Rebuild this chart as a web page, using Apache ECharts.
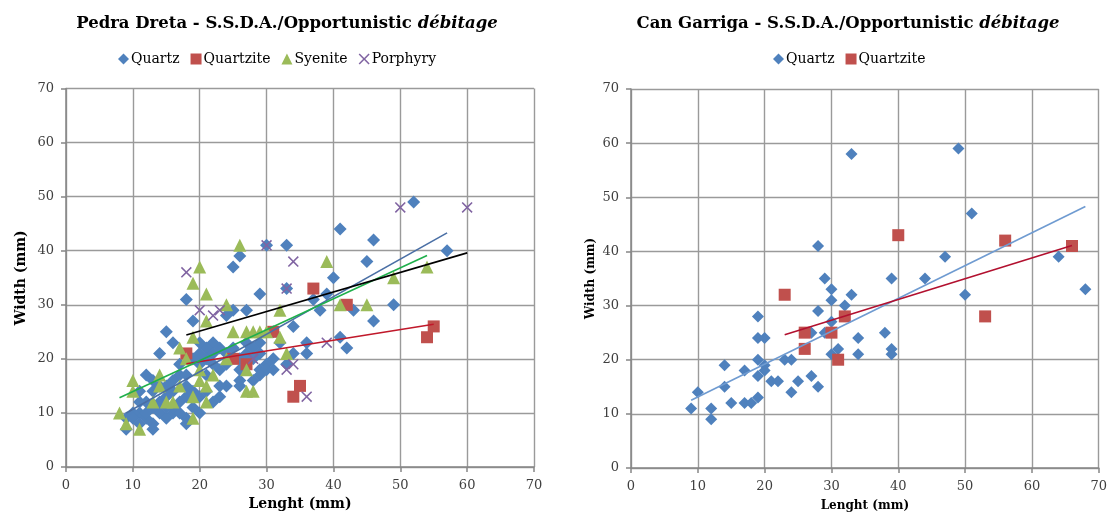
<!DOCTYPE html>
<html>
<head>
<meta charset="utf-8">
<script src="https://cdn.jsdelivr.net/npm/echarts@6/dist/echarts.min.js"></script>
<style>
html,body{margin:0;padding:0;background:#fff;}
#chart{width:1110px;height:517px;}
</style>
</head>
<body>
<div id="chart"></div>
<script>
// ---------- Data: Pedra Dreta (left) [length, width] ----------
var pdQuartz = [
  [52,49],[41,44],[46,42],[33,41],[30,41],[26,39],[25,37],[45,38],[57,40],[40,35],
  [33,33],[39,32],[29,32],[37,31],[18,31],[38,29],[43,29],[49,30],[27,29],[25,29],
  [24,28],[19,27],[46,27],[34,26],[15,25],[31,25],[29,23],[28,22],[41,24],[16,23],
  [22,23],[36,23],[21,22],[23,22],[25,22],[42,22],[14,21],[20,21],[36,21],[29,21],
  [31,20],[24,19],[28,20],[30,19],[26,18],[29,18],[30,18],[31,18],[29,17],[28,16],
  [12,17],[17,17],[18,17],[26,15],[24,15],[14,15],[15,15],[18,15],[16,14],[13,14],
  [23,13],[11,12],[12,12],[17,12],[20,10],[16,10],[14,10],[11,10],[10,10],[9,9],
  [12,9],[15,9],[18,9],[18,8],[13,8],[9,7],[13,7],[26,16],[22,21],[19,20],
  [20,19],[21,20],[27,21],[27,23],[32,23],[33,19],[34,21],[19,14],[20,13],[21,14],
  [16,11],[14,12],[10,9],[11,8],[12,10],[13,11],[15,11],[17,10],[19,11],[22,12],
  [23,15],[21,17],[22,19],[23,18],[24,21],[26,20],[20,23],[17,19],[13,16],[11,14],
  [16,16],[18,13],[15,13]
];
var pdQuartzite = [
  [37,33],[42,30],[31,25],[18,21],[25,20],[27,19],[55,26],[54,24],[35,15],[34,13]
];
var pdSyenite = [
  [26,41],[20,37],[19,34],[21,32],[39,38],[54,37],[49,35],[24,30],[32,29],[41,30],
  [45,30],[21,27],[25,25],[27,25],[28,25],[29,25],[32,24],[19,24],[33,21],[17,22],
  [18,20],[20,18],[27,18],[27,14],[28,14],[22,17],[21,15],[14,17],[14,15],[10,16],
  [17,15],[20,16],[19,13],[21,12],[15,12],[8,10],[9,8],[11,7],[19,9],[13,12],
  [16,12],[10,14],[30,25],[24,20]
];
var pdPorphyry = [
  [18,36],[20,29],[22,28],[23,29],[28,20],[30,41],[33,33],[34,38],[33,18],[34,19],
  [36,13],[39,23],[50,48],[60,48]
];
// trend line end points
var pdQuartzTrend = [[9,10],[57,43.3]];
var pdQuartziteTrend = [[18,19.1],[55,26.4]];
var pdSyeniteTrend = [[8,12.8],[54,39.1]];
var pdPorphyryTrend = [[18,24.4],[60,39.6]];

// ---------- Data: Can Garriga (right) ----------
var cgQuartz = [
  [33,58],[49,59],[51,47],[28,41],[47,39],[64,39],[39,35],[44,35],[68,33],[50,32],
  [29,35],[30,33],[30,31],[33,32],[32,30],[28,29],[19,28],[30,27],[29,25],[27,25],
  [38,25],[34,24],[19,24],[20,24],[31,22],[39,22],[30,21],[34,21],[39,21],[19,20],
  [23,20],[24,20],[20,19],[14,19],[17,18],[19,17],[20,18],[27,17],[21,16],[22,16],
  [25,16],[14,15],[24,14],[28,15],[10,14],[15,12],[17,12],[18,12],[19,13],[9,11],
  [12,11],[12,9]
];
var cgQuartzite = [
  [40,43],[56,42],[66,41],[23,32],[32,28],[53,28],[26,25],[30,25],[26,22],[31,20]
];
var cgQuartzTrend = [[9,12.5],[68,48.3]];
var cgQuartziteTrend = [[23,24.6],[66,41.1]];

// ---------- Labels ----------
var leftTitleMain = 'Pedra Dreta - S.S.D.A./Opportunistic ';
var rightTitleMain = 'Can Garriga - S.S.D.A./Opportunistic ';
var titleItalic = 'débitage';
var leftLegend = ['Quartz', 'Quartzite', 'Syenite', 'Porphyry'];
var rightLegend = ['Quartz', 'Quartzite'];
var xName = 'Lenght (mm)';
var yName = 'Width (mm)';

var FONT = 'DejaVu Serif';
var C_Q = '#4F81BD', C_QZ = '#C0504D', C_S = '#9BBB59', C_P = '#8064A2';
var X_PATH = 'path://M0,1 L1,0 L5,4 L9,0 L10,1 L6,5 L10,9 L9,10 L5,6 L1,10 L0,9 L4,5 Z';
var ICONS = {Quartz: 'diamond', Quartzite: 'rect', Syenite: 'triangle', Porphyry: X_PATH};

function titleRich(size) {
  return {
    b: {fontFamily: FONT, fontWeight: 'bold', fontSize: size, color: '#000'},
    i: {fontFamily: FONT, fontWeight: 'bold', fontStyle: 'italic', fontSize: size, color: '#000'}
  };
}
function legendData(names) {
  return names.map(function (n) { return {name: n, icon: ICONS[n]}; });
}
function xAxis(idx, nameSize, nameGap) {
  return {
    gridIndex: idx, type: 'value', min: 0, max: 70, interval: 10,
    name: xName, nameLocation: 'middle', nameGap: nameGap,
    nameTextStyle: {fontFamily: FONT, fontWeight: 'bold', fontSize: nameSize, color: '#000'},
    axisLine: {show: true, onZero: false, lineStyle: {color: '#868686', width: 1.5}},
    axisTick: {show: true, inside: false, length: 5, lineStyle: {color: '#868686', width: 1.5}},
    axisLabel: {fontFamily: FONT, fontSize: 13, color: '#404040', margin: 12},
    splitLine: {show: true, lineStyle: {color: '#9A9A9A', width: 1.4}}
  };
}
function yAxis(idx, nameSize, nameGap) {
  return {
    gridIndex: idx, type: 'value', min: 0, max: 70, interval: 10,
    name: yName, nameLocation: 'middle', nameGap: nameGap, nameRotate: 90,
    nameTextStyle: {fontFamily: FONT, fontWeight: 'bold', fontSize: nameSize, color: '#000'},
    axisLine: {show: true, onZero: false, lineStyle: {color: '#868686', width: 1.5}},
    axisTick: {show: true, inside: false, length: 5, lineStyle: {color: '#868686', width: 1.5}},
    axisLabel: {fontFamily: FONT, fontSize: 13, color: '#404040', margin: 12},
    splitLine: {show: true, lineStyle: {color: '#9A9A9A', width: 1.4}}
  };
}
function scatter(name, data, idx, symbol, size, color) {
  return {
    type: 'scatter', name: name, data: data, xAxisIndex: idx, yAxisIndex: idx,
    symbol: symbol, symbolSize: size, itemStyle: {color: color, opacity: 1},
    z: 2, silent: true, animation: false
  };
}
function trend(data, idx, color) {
  return {
    type: 'line', data: data, xAxisIndex: idx, yAxisIndex: idx,
    symbol: 'none', lineStyle: {color: color, width: 1.6}, z: 5, silent: true, animation: false
  };
}

var chart = echarts.init(document.getElementById('chart'), null, {renderer: 'canvas'});
chart.setOption({
  animation: false,
  backgroundColor: '#fff',
  title: [
    {text: '{b|' + leftTitleMain + '}{i|' + titleItalic + '}', left: 282, top: 10, textAlign: 'center',
     textStyle: {rich: titleRich(16.5)}},
    {text: '{b|' + rightTitleMain + '}{i|' + titleItalic + '}', left: 843, top: 10, textAlign: 'center',
     textStyle: {rich: titleRich(16.5)}}
  ],
  legend: [
    {data: legendData(leftLegend), left: 113, top: 47, itemWidth: 11, itemHeight: 11, itemGap: 11,
     textStyle: {fontFamily: FONT, fontSize: 14, color: '#000', padding: [0,0,0,-3]}, selectedMode: false},
    {data: legendData(rightLegend), left: 768, top: 47, itemWidth: 11, itemHeight: 11, itemGap: 11,
     textStyle: {fontFamily: FONT, fontSize: 14, color: '#000', padding: [0,0,0,-3]}, selectedMode: false}
  ],
  grid: [
    {left: 66, top: 88.5, width: 468, height: 378.5},
    {left: 631, top: 89, width: 470, height: 380}
  ],
  xAxis: [xAxis(0, 14, 30), xAxis(1, 12, 32)],
  yAxis: [yAxis(0, 14, 38), yAxis(1, 12, 34)],
  series: [
    scatter('Quartz', pdQuartz, 0, 'diamond', 13, C_Q),
    scatter('Quartzite', pdQuartzite, 0, 'rect', 12, C_QZ),
    scatter('Syenite', pdSyenite, 0, 'triangle', 13, C_S),
    scatter('Porphyry', pdPorphyry, 0, X_PATH, 11, C_P),
    trend(pdQuartzTrend, 0, '#4A6FA5'),
    trend(pdQuartziteTrend, 0, '#C0182A'),
    trend(pdSyeniteTrend, 0, '#1FAF4B'),
    trend(pdPorphyryTrend, 0, '#000000'),
    scatter('Quartz', cgQuartz, 1, 'diamond', 12, C_Q),
    scatter('Quartzite', cgQuartzite, 1, 'rect', 12, C_QZ),
    trend(cgQuartzTrend, 1, '#6F9BD1'),
    trend(cgQuartziteTrend, 1, '#B2102F')
  ]
});
</script>
</body>
</html>
